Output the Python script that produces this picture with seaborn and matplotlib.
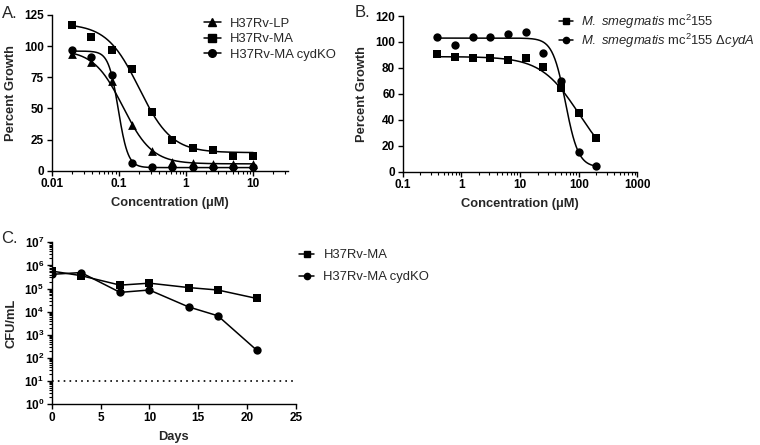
import numpy as np
import pandas as pd
import matplotlib
matplotlib.use('Agg')
import matplotlib.pyplot as plt
import seaborn as sns
from matplotlib.lines import Line2D
from matplotlib.ticker import LogLocator, NullFormatter

# ---- panel A: dose response of H37Rv strains ----
conc_a = [0.02, 0.039, 0.078, 0.156, 0.3125, 0.625, 1.25, 2.5, 5, 10]
lp_growth = [94, 87, 72, 37, 16, 7, 6, 5.5, 5.5, 5.5]
ma_growth = [117, 107, 97, 82, 47, 25, 18, 17, 12, 11.5]
ko_growth = [97, 91, 77, 6, 3, 3, 3, 3, 3, 3]
labels_a = ['H37Rv-LP', 'H37Rv-MA', 'H37Rv-MA cydKO']
# fitted 4PL curves: top, bottom, IC50, hill
fit_lp = [97, 5.5, 0.115, 2.0]
fit_ma = [118, 14.5, 0.2, 1.8]
fit_ko = [96, 2.5, 0.098, 6.0]
xticks_a = [0.01, 0.1, 1, 10]
xticklabels_a = ['0.01', '0.1', '1', '10']
yticks_a = [0, 25, 50, 75, 100, 125]

# ---- panel B: M. smegmatis ----
conc_b = [0.39, 0.78, 1.56, 3.125, 6.25, 12.5, 25, 50, 100, 200]
smeg_growth = [90.5, 88.5, 88, 88, 86.5, 88, 81, 64.5, 45, 26]
cyda_growth = [103.5, 97.5, 103.5, 103.5, 106.5, 107.5, 91.5, 70, 15, 4.5]
labels_b = [r'$\mathit{M.\ smegmatis}$ mc$^{2}$155',
            r'$\mathit{M.\ smegmatis}$ mc$^{2}$155 Δ$\mathit{cydA}$']
fit_smeg = [88.7, 0, 102, 1.33]
fit_cyda = [103, 3.5, 59.5, 3.95]
xticks_b = [0.1, 1, 10, 100, 1000]
xticklabels_b = ['0.1', '1', '10', '100', '1000']
yticks_b = [0, 20, 40, 60, 80, 100, 120]

# ---- panel C: survival over time ----
days = [0, 3, 7, 10, 14, 17, 21]
cfu_ma = [5.7e5, 3.6e5, 1.4e5, 1.7e5, 1.1e5, 8.6e4, 3.7e4]
cfu_ko = [4.1e5, 4.9e5, 6.8e4, 8.6e4, 1.6e4, 6.6e3, 2.1e2]
labels_c = ['H37Rv-MA', 'H37Rv-MA cydKO']
detection_limit = 10
xticks_c = [0, 5, 10, 15, 20, 25]
yticks_c = [1, 10, 1e2, 1e3, 1e4, 1e5, 1e6, 1e7]
yticklabels_c = [r'$\mathbf{10^{%d}}$' % i for i in range(8)]

sns.set_theme(style='ticks')
plt.rcParams['font.family'] = ['Liberation Sans', 'DejaVu Sans']
plt.rcParams.update({
    'mathtext.fontset': 'custom',
    'mathtext.rm': 'Liberation Sans',
    'mathtext.it': 'Liberation Sans:italic',
    'mathtext.bf': 'Liberation Sans:bold',
    'axes.linewidth': 1.0,
    'xtick.major.width': 1.0, 'ytick.major.width': 1.0,
    'xtick.minor.width': 0.8, 'ytick.minor.width': 0.8,
    'xtick.major.size': 3.5, 'ytick.major.size': 3.5,
    'xtick.minor.size': 2.0, 'ytick.minor.size': 2.0,
    'xtick.color': 'black', 'ytick.color': 'black',
    'axes.edgecolor': 'black',
})

TICK_FS = 8.5
LABEL_FS = 9.3
LEG_FS = 9.4


def four_pl(x, p):
    top, bottom, ic50, hill = p
    return bottom + (top - bottom) / (1 + (x / ic50) ** hill)


def style_axis(ax):
    sns.despine(ax=ax)
    ax.tick_params(axis='both', which='both', direction='out', pad=2)


fig = plt.figure(figsize=(7.6, 4.45), dpi=100)

# ---------------- A ----------------
ax_a = fig.add_axes([0.068, 0.6164, 0.311, 0.35])
markers_a = ['^', 's', 'o']
sizes_a = [40, 36, 36]
fits_a = [fit_lp, fit_ma, fit_ko]
for vals, mk, sz, fit in zip([lp_growth, ma_growth, ko_growth], markers_a, sizes_a, fits_a):
    sns.scatterplot(x=conc_a, y=vals, marker=mk, s=sz, color='black',
                    edgecolor='black', linewidth=0, ax=ax_a, legend=False)
    grid = np.geomspace(conc_a[0], conc_a[-1], 300)
    sns.lineplot(x=grid, y=four_pl(grid, fit), color='black', lw=1.1, ax=ax_a)
ax_a.set_xscale('log')
ax_a.set_xlim(0.01, 33)
ax_a.set_ylim(0, 125)
ax_a.set_xticks(xticks_a, xticklabels_a, fontweight='bold', fontsize=TICK_FS)
ax_a.set_yticks(yticks_a, [str(v) for v in yticks_a], fontweight='bold', fontsize=TICK_FS)
ax_a.xaxis.set_minor_locator(LogLocator(base=10, subs=np.arange(2, 10), numticks=100))
ax_a.xaxis.set_minor_formatter(NullFormatter())
ax_a.set_xlabel('Concentration (μM)', fontweight='bold', fontsize=LABEL_FS, labelpad=5)
ax_a.set_ylabel('Percent Growth', fontweight='bold', fontsize=LABEL_FS, labelpad=5)
style_axis(ax_a)
handles_a = [Line2D([], [], color='black', lw=1.1, marker=m, markersize=5.5) for m in markers_a]
ax_a.legend(handles_a, labels_a, loc='upper left', bbox_to_anchor=(0.268, 0.96),
            bbox_transform=fig.transFigure, frameon=False, fontsize=LEG_FS,
            handlelength=1.3, handletextpad=0.7, labelspacing=0.25, borderpad=0,
            borderaxespad=0)

# ---------------- B ----------------
ax_b = fig.add_axes([0.530, 0.614, 0.3086, 0.350])
markers_b = ['s', 'o']
fits_b = [fit_smeg, fit_cyda]
for vals, mk, fit in zip([smeg_growth, cyda_growth], markers_b, fits_b):
    sns.scatterplot(x=conc_b, y=vals, marker=mk, s=36, color='black',
                    edgecolor='black', linewidth=0, ax=ax_b, legend=False)
    grid = np.geomspace(conc_b[0], conc_b[-1], 300)
    sns.lineplot(x=grid, y=four_pl(grid, fit), color='black', lw=1.1, ax=ax_b)
ax_b.set_xscale('log')
ax_b.set_xlim(0.1, 1000)
ax_b.set_ylim(0, 120)
ax_b.set_xticks(xticks_b, xticklabels_b, fontweight='bold', fontsize=TICK_FS)
ax_b.set_yticks(yticks_b, [str(v) for v in yticks_b], fontweight='bold', fontsize=TICK_FS)
ax_b.xaxis.set_minor_locator(LogLocator(base=10, subs=np.arange(2, 10), numticks=100))
ax_b.xaxis.set_minor_formatter(NullFormatter())
ax_b.set_xlabel('Concentration (μM)', fontweight='bold', fontsize=LABEL_FS, labelpad=5)
ax_b.set_ylabel('Percent Growth', fontweight='bold', fontsize=LABEL_FS, labelpad=5)
style_axis(ax_b)
handles_b = [Line2D([], [], color='black', lw=1.1, marker=m, markersize=4.5) for m in markers_b]
ax_b.legend(handles_b, labels_b, loc='upper left', bbox_to_anchor=(0.735, 0.972),
            bbox_transform=fig.transFigure, frameon=False, fontsize=LEG_FS,
            handlelength=1.1, handletextpad=0.6, labelspacing=0.05, borderpad=0,
            borderaxespad=0)

# ---------------- C ----------------
ax_c = fig.add_axes([0.068, 0.0921, 0.3215, 0.3634])
df_c = pd.DataFrame({
    'day': days * 2,
    'cfu': cfu_ma + cfu_ko,
    'strain': [labels_c[0]] * len(days) + [labels_c[1]] * len(days),
})
sns.lineplot(data=df_c, x='day', y='cfu', style='strain', markers=['s', 'o'],
             dashes=False, color='black', lw=1.1, markersize=6, markeredgewidth=0,
             ax=ax_c, legend=False)
ax_c.axhline(detection_limit, color='black', lw=1.2, linestyle=(0, (1, 2.5)))
ax_c.set_yscale('log')
ax_c.set_xlim(0, 25)
ax_c.set_ylim(1, 1e7)
ax_c.set_xticks(xticks_c, [str(v) for v in xticks_c], fontweight='bold', fontsize=TICK_FS)
ax_c.set_yticks(yticks_c, yticklabels_c, fontsize=TICK_FS)
ax_c.yaxis.set_minor_locator(LogLocator(base=10, subs=np.arange(2, 10), numticks=100))
ax_c.yaxis.set_minor_formatter(NullFormatter())
ax_c.set_xlabel('Days', fontweight='bold', fontsize=LABEL_FS, labelpad=5)
ax_c.set_ylabel('CFU/mL', fontweight='bold', fontsize=LABEL_FS, labelpad=5)
style_axis(ax_c)
handles_c = [Line2D([], [], color='black', lw=1.1, marker=m, markersize=4.5) for m in ['s', 'o']]
ax_c.legend(handles_c, labels_c, loc='upper left', bbox_to_anchor=(0.393, 0.44),
            bbox_transform=fig.transFigure, frameon=False, fontsize=LEG_FS,
            handlelength=1.2, handletextpad=0.7, labelspacing=0.75, borderpad=0,
            borderaxespad=0)

# panel letters
fig.text(0.003, 0.959, 'A.', fontsize=12, va='baseline')
fig.text(0.467, 0.9625, 'B.', fontsize=12, va='baseline')
fig.text(0.002, 0.454, 'C.', fontsize=12, va='baseline')

fig.savefig('out.png', dpi=100)
